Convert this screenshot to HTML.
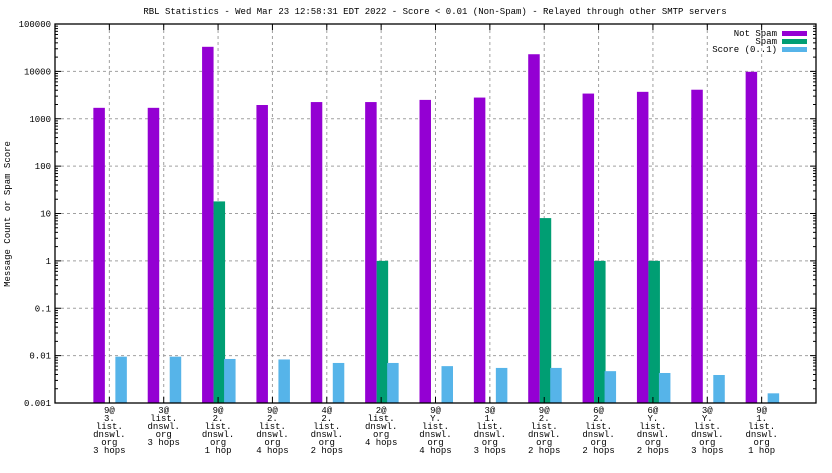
<!DOCTYPE html>
<html><head><meta charset="utf-8"><style>
body{margin:0;background:#fff}
svg text{font-family:"Liberation Mono",monospace;font-size:9px;fill:#000}
</style></head><body>
<svg width="832" height="468" xmlns="http://www.w3.org/2000/svg">
<text x="435" y="14" text-anchor="middle">RBL Statistics - Wed Mar 23 12:58:31 EDT 2022 - Score &lt; 0.01 (Non-Spam) - Relayed through other SMTP servers</text>
<text transform="translate(10,214) rotate(-90)" text-anchor="middle">Message Count or Spam Score</text>
<g id="grid"></g><g id="bars"></g><g id="axes"></g>
<g>
<text x="777" y="36" text-anchor="end">Not Spam</text>
<rect x="782" y="31" width="25" height="5" fill="#9400d3"/>
<text x="777" y="44" text-anchor="end">Spam</text>
<rect x="782" y="39" width="25" height="5" fill="#009e73"/>
<text x="777" y="52" text-anchor="end">Score (0..1)</text>
<rect x="782" y="47" width="25" height="5" fill="#56b4e9"/>
</g>
</svg>
<script>
const categories=[["9@","3.","list.","dnswl.","org","3 hops"],["3@","list.","dnswl.","org","3 hops"],["9@","2.","list.","dnswl.","org","1 hop"],["9@","2.","list.","dnswl.","org","4 hops"],["4@","2.","list.","dnswl.","org","2 hops"],["2@","list.","dnswl.","org","4 hops"],["9@","Y.","list.","dnswl.","org","4 hops"],["3@","1.","list.","dnswl.","org","3 hops"],["9@","2.","list.","dnswl.","org","2 hops"],["6@","2.","list.","dnswl.","org","2 hops"],["6@","Y.","list.","dnswl.","org","2 hops"],["3@","Y.","list.","dnswl.","org","3 hops"],["9@","1.","list.","dnswl.","org","1 hop"]];
const notSpam=[1700,1700,33000,1950,2250,2250,2500,2800,23000,3400,3700,4100,9800];
const spam=[0,0,18,0,0,1,0,0,8,1,1,0,0];
const score=[0.0095,0.0095,0.0085,0.0083,0.007,0.007,0.006,0.0055,0.0055,0.0047,0.0043,0.0039,0.0016];
const yTicks=["0.001","0.01","0.1","1","10","100","1000","10000","100000"];
const NS="http://www.w3.org/2000/svg";
const L=55,R=816,T=24,B=403;
const step=(R-L)/14;
const xs=i=>L+step*(i+1);
const ys=v=>B-(Math.log10(v)+3)/8*(B-T);
function mk(tag,attrs,parent){const e=document.createElementNS(NS,tag);for(const k in attrs)e.setAttribute(k,attrs[k]);parent.appendChild(e);return e;}
const grid=document.getElementById('grid'),bars=document.getElementById('bars'),axes=document.getElementById('axes');
yTicks.forEach((t,i)=>{const y=ys(parseFloat(t));
 if(i>0&&i<yTicks.length-1){mk('line',{x1:L,x2:R,y1:y,y2:y,stroke:'#a0a0a0','stroke-dasharray':'3,3'},grid);}
 const tx=mk('text',{x:L-4,y:y+3,'text-anchor':'end'},axes);tx.textContent=t;
 
 
 mk('line',{x1:L,x2:L+6,y1:y,y2:y,stroke:'#000'},axes);mk('line',{x1:R,x2:R-6,y1:y,y2:y,stroke:'#000'},axes);
 if(i<yTicks.length-1){for(let m=2;m<10;m++){const yy=ys(parseFloat(t)*m);mk('line',{x1:L,x2:L+3,y1:yy,y2:yy,stroke:'#000'},axes);mk('line',{x1:R,x2:R-3,y1:yy,y2:yy,stroke:'#000'},axes);}}
});
function bar(x,v,c,name){if(v<=0)return;const y=ys(v);const r=mk('rect',{x:x,y:y,width:11.5,height:B-y,fill:c},bars);
 
 }
categories.forEach((lab,i)=>{const x=xs(i);
 mk('line',{x1:x,x2:x,y1:T,y2:B,stroke:'#a0a0a0','stroke-dasharray':'3,3'},grid);
 mk('line',{x1:x,x2:x,y1:B,y2:B-6,stroke:'#000'},axes);mk('line',{x1:x,x2:x,y1:T,y2:T+6,stroke:'#000'},axes);
 bar(x-16,notSpam[i],'#9400d3','bar-not-spam');
 bar(x-4.5,spam[i],'#009e73','bar-spam');
 bar(x+6,score[i],'#56b4e9','bar-score');
 const g=mk('text',{x:x,y:B+10,'text-anchor':'middle'},axes);
 
 
 lab.forEach((s,j)=>{const ts=mk('tspan',{x:x,dy:j?8:0},g);ts.textContent=s;});
});
mk('rect',{x:L,y:T,width:R-L,height:B-T,fill:'none',stroke:'#000','stroke-width':1.3},axes);
</script>
</body></html>
